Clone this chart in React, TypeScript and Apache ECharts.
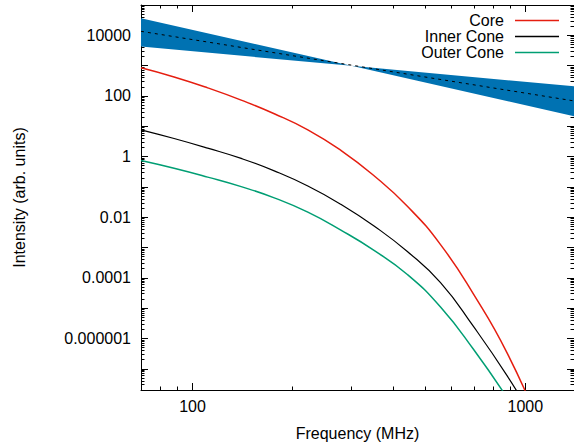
import React, { useEffect, useRef } from "react";
import * as echarts from "echarts";

const freq = [70, 88, 111, 140, 176, 222, 279, 351, 442, 556, 700, 881, 1109];
const coreIntensity = [849, 423, 185, 72.9, 25.9, 7.62, 1.61, 0.234, 0.023, 0.00125, 2.79e-5, 3.36e-7, 1.26e-9];
const innerIntensity = [7.62, 3.94, 1.9, 0.869, 0.338, 0.107, 0.0267, 0.00512, 7.38e-4, 6.93e-5, 2.4e-6, 5.93e-8, 9.5e-10];
const outerIntensity = [0.738, 0.41, 0.21, 0.102, 0.0435, 0.01465, 0.00376, 8.07e-4, 1.29e-4, 1.09e-5, 4.24e-7, 1.12e-8];

const fitFreq = [70, 1400];
const fitIntensity = [13550, 68.5];

const bandFreq = [70, 300, 1400];
const bandHigh = [36800, 982, 209];
const bandLow = [4270, 982, 21.5];

const seriesNames = ["Core", "Inner Cone", "Outer Cone"];
const seriesColors = ["#e51e10", "#000000", "#009e73"];

// ---------- axes ----------
const xRange = [70, 1400];
const yRange = [2e-8, 1e5];
const xMajorTicks = [100, 1000];
const xTickLabels = ["100", "1000"];
const xMinorTicks = [80, 90, 200, 300, 400, 500, 600, 700, 800, 900];
const yLabelValues = [1e-6, 1e-4, 1e-2, 1, 100, 10000];
const yTickLabels = ["0.000001", "0.0001", "0.01", "1", "100", "10000"];
const yMajorTicks = [1e-7, 1e-6, 1e-5, 1e-4, 1e-3, 1e-2, 1e-1, 1, 10, 100, 1000, 10000];
const yDecades = [-8, -7, -6, -5, -4, -3, -2, -1, 0, 1, 2, 3, 4];
const yMinorMultipliers = [2, 3, 4, 5, 6, 7, 8, 9];

const lg = (v: number) => Math.log10(v);
const pairs = (xs: number[], ys: number[]) => ys.map((y, i) => [lg(xs[i]), lg(y)]);

const FONT = "Liberation Sans";
const BLACK = "#000";

const yMinorTicks: number[] = [];
yDecades.forEach((d) =>
  yMinorMultipliers.forEach((k) => {
    const v = k * Math.pow(10, d);
    if (v >= yRange[0] && v <= yRange[1]) yMinorTicks.push(v);
  })
);

const labelFor = (vals: number[], labels: string[]) => (v: number) => {
  const i = vals.findIndex((t) => Math.abs(lg(t) - v) < 1e-6);
  return i >= 0 ? labels[i] : "";
};

const textStyle = { fontSize: 16, color: BLACK, fontFamily: FONT };

function xAxisDef(position: "bottom" | "top", major: boolean, withLabels: boolean) {
  return {
    type: "value",
    position,
    min: lg(xRange[0]),
    max: lg(xRange[1]),
    axisLine: { show: major, onZero: false, lineStyle: { color: BLACK, width: 1 } },
    axisTick: {
      show: true,
      inside: true,
      length: major ? 7 : 3.5,
      customValues: (major ? xMajorTicks : xMinorTicks).map(lg),
      lineStyle: { color: BLACK, width: 1 },
    },
    axisLabel: withLabels
      ? {
          show: true,
          customValues: xMajorTicks.map(lg),
          formatter: labelFor(xMajorTicks, xTickLabels),
          margin: 8,
          ...textStyle,
        }
      : { show: false },
    splitLine: { show: false },
    ...(withLabels
      ? {
          name: "Frequency (MHz)",
          nameLocation: "middle",
          nameGap: 35,
          nameTextStyle: textStyle,
        }
      : {}),
  };
}

function yAxisDef(position: "left" | "right", major: boolean, withLabels: boolean) {
  return {
    type: "value",
    position,
    min: lg(yRange[0]),
    max: lg(yRange[1]),
    axisLine: { show: major, onZero: false, lineStyle: { color: BLACK, width: 1 } },
    axisTick: {
      show: true,
      inside: true,
      length: major ? 7 : 3.5,
      customValues: (major ? yMajorTicks : yMinorTicks).map(lg),
      lineStyle: { color: BLACK, width: 1 },
    },
    axisLabel: withLabels
      ? {
          show: true,
          customValues: yLabelValues.map(lg),
          formatter: labelFor(yLabelValues, yTickLabels),
          margin: 10,
          ...textStyle,
        }
      : { show: false },
    splitLine: { show: false },
    ...(withLabels
      ? {
          name: "Intensity (arb. units)",
          nameLocation: "middle",
          nameGap: 114,
          nameTextStyle: textStyle,
        }
      : {}),
  };
}

const legendTops = [12.5, 28.5, 44.5];

const option: any = {
  animation: false,
  backgroundColor: "#fff",
  grid: { left: 141, top: 5, right: -6, bottom: 51, containLabel: false },
  xAxis: [
    xAxisDef("bottom", true, true),
    xAxisDef("bottom", false, false),
    xAxisDef("top", true, false),
    xAxisDef("top", false, false),
  ],
  yAxis: [
    yAxisDef("left", true, true),
    yAxisDef("left", false, false),
    yAxisDef("right", true, false),
    yAxisDef("right", false, false),
  ],
  legend: seriesNames.map((name, i) => ({
    data: [{ name, icon: "rect", itemStyle: { color: seriesColors[i] } }],
    right: 15,
    top: legendTops[i],
    orient: "vertical",
    align: "right",
    itemWidth: 44,
    itemHeight: 1.5,
    padding: 0,
    selectedMode: false,
    textStyle: { ...textStyle, padding: [0, 6, 0, 0] },
  })),
  series: [
    {
      type: "custom",
      name: "Fit range",
      silent: true,
      z: 1,
      data: [[lg(bandFreq[0]), lg(bandHigh[0])]],
      renderItem: (_params: any, api: any) => {
        const upper = bandFreq.map((f, i) => api.coord([lg(f), lg(bandHigh[i])]));
        const lower = bandFreq.map((f, i) => api.coord([lg(f), lg(bandLow[i])])).reverse();
        return {
          type: "polygon",
          shape: { points: upper.concat(lower) },
          style: { fill: "#0072b2" },
        };
      },
    },
    {
      type: "line",
      name: "Fit",
      z: 3,
      data: pairs(fitFreq, fitIntensity),
      symbol: "none",
      silent: true,
      lineStyle: { color: BLACK, width: 1, type: [3, 4] },
    },
    {
      type: "line",
      name: seriesNames[0],
      data: pairs(freq, coreIntensity),
      symbol: "none",
      smooth: 0.5,
      lineStyle: { color: seriesColors[0], width: 1.5 },
      itemStyle: { color: seriesColors[0] },
    },
    {
      type: "line",
      name: seriesNames[1],
      data: pairs(freq, innerIntensity),
      symbol: "none",
      smooth: 0.5,
      lineStyle: { color: seriesColors[1], width: 1.2 },
      itemStyle: { color: seriesColors[1] },
    },
    {
      type: "line",
      name: seriesNames[2],
      data: pairs(freq, outerIntensity),
      symbol: "none",
      smooth: 0.5,
      lineStyle: { color: seriesColors[2], width: 1.5 },
      itemStyle: { color: seriesColors[2] },
    },
  ],
};

export default function App() {
  const ref = useRef<HTMLDivElement>(null);
  useEffect(() => {
    if (!ref.current) return;
    const chart = echarts.init(ref.current, null, { renderer: "svg" });
    chart.setOption(option);
    return () => chart.dispose();
  }, []);
  return (
    <div
      ref={ref}
      style={{ position: "fixed", left: 0, top: 0, width: 574, height: 446, background: "#fff" }}
    />
  );
}
